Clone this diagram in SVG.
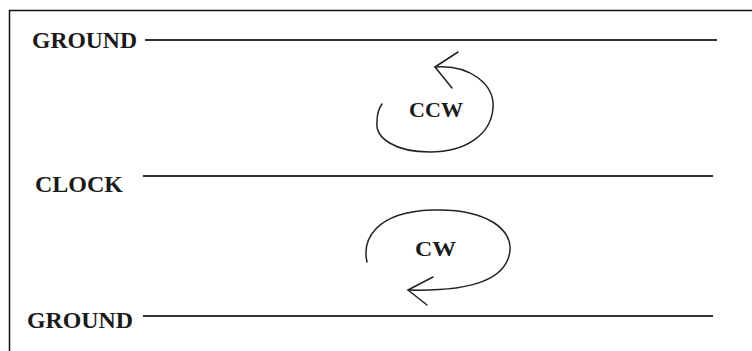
<svg xmlns="http://www.w3.org/2000/svg" width="752" height="351" viewBox="0 0 752 351">
<style>
.lbl{font-family:"Liberation Serif","Times New Roman",serif;font-weight:bold;fill:#1a1a1a;font-size:24px}
.rot{font-family:"Liberation Serif","Times New Roman",serif;font-weight:bold;fill:#1a1a1a;font-size:22px}
.wire{stroke:#333;stroke-width:2;fill:none}
.arc{stroke:#222;stroke-width:1.5;fill:none;stroke-linecap:round;stroke-linejoin:round}
</style>
<rect width="752" height="351" fill="#fff"/>
<path d="M9.5,351 V10.5 H752" fill="none" stroke="#111" stroke-width="1.5"/>
<g id="ground-top">
<text class="lbl" x="32" y="48" textLength="105" lengthAdjust="spacingAndGlyphs">GROUND</text>
<line class="wire" x1="145" y1="40" x2="717" y2="40"/>
</g>
<g id="clock">
<text class="lbl" x="35" y="192" textLength="88" lengthAdjust="spacingAndGlyphs">CLOCK</text>
<line class="wire" x1="143" y1="176" x2="713" y2="176"/>
</g>
<g id="ground-bottom">
<text class="lbl" x="27" y="328" textLength="106" lengthAdjust="spacingAndGlyphs">GROUND</text>
<line class="wire" x1="143" y1="316" x2="713" y2="316"/>
</g>
<g id="ccw">
<text class="rot" x="409" y="117" textLength="54" lengthAdjust="spacingAndGlyphs">CCW</text>
</g>
<g id="cw">
<text class="rot" x="415" y="256" textLength="41" lengthAdjust="spacingAndGlyphs">CW</text>
</g>
<g id="connectors">
<path class="arc" d="M435,67 C470,64 495,85 493,108 C491,135 465,152 430,152 C395,152 375,138 377,122 C377,114 379,108 382,104"/>
<path class="arc" d="M458,52 L435,67 L452,88"/>
<path class="arc" d="M367,262 C362,240 375,212 432,210 C490,208 512,232 510,250 C508,275 480,292 408,290"/>
<path class="arc" d="M433,277 L408,290 L427,305"/>
</g>
</svg>
